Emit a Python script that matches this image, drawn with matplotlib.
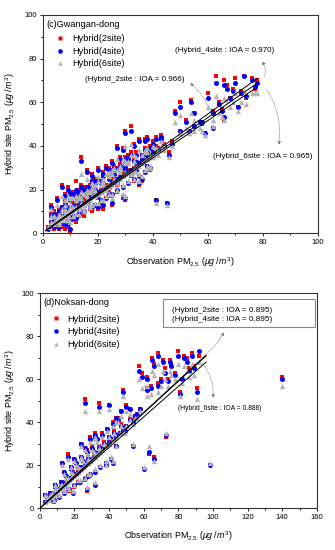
import matplotlib
matplotlib.use("Agg")
import matplotlib.pyplot as plt
from matplotlib.lines import Line2D
from matplotlib.patches import Rectangle

plt.rcParams['font.family'] = ['Liberation Sans', 'DejaVu Sans']
plt.rcParams['mathtext.fontset'] = 'custom'
plt.rcParams['mathtext.rm'] = 'Liberation Sans'
plt.rcParams['mathtext.it'] = 'Liberation Sans:italic'

# ---- (c) Gwangan-dong ----
obs_c = [
    2, 3, 3, 4, 4, 5, 5, 6, 6, 7,
    7, 8, 8, 9, 9, 10, 10, 11, 11, 12,
    3, 5, 7, 9, 10, 12, 4, 6, 8, 11,
    12, 13, 13, 14, 14, 15, 15, 16, 16, 17,
    17, 18, 18, 19, 19, 20, 20, 21, 21, 22,
    22, 23, 23, 24, 24, 25, 25, 14, 16, 18,
    20, 22, 24, 13, 19,
    26, 27, 27, 28, 29, 29, 30, 30, 31, 32,
    32, 33, 33, 34, 35, 35, 36, 36, 37, 38,
    38, 39, 40, 41, 41, 42, 43, 44, 45, 46,
    47, 30, 34, 39, 28,
    48, 50, 50, 52, 53, 54, 55, 55, 57, 58,
    59, 60, 62, 62, 63, 64, 65, 66, 66, 67,
    68, 69, 70, 71, 72, 73, 74, 76, 77, 78,
    5, 6, 7, 8, 9, 10, 11, 12, 13, 14,
    15, 16, 17, 18, 19, 20, 21, 22, 23, 24,
    25, 26, 27, 28, 29, 30, 31, 32, 33, 34,
    35, 36, 37, 38, 39, 40, 42, 44, 8, 12,
    6, 9, 11, 13, 15, 17, 19, 21, 23, 25,
    27, 29, 31, 33, 35, 37, 39, 10, 14, 18,
    4, 7, 10, 13, 16, 19, 22, 25, 28, 31,
    34, 37, 40, 43, 12, 18, 24, 30,
    3, 5, 8, 11, 14, 16, 19, 22, 24, 27,
    30, 33, 36, 38, 41, 20, 26, 32, 15, 9,
]
h2_c = [
    3, 13, 3, 6, 2, 9, 3, 11, 2, 22,
    4, 15, 2, 21, 3, 1, 12, 19, 6, 24,
    9, 16, 3, 12, 19, 5, 10, 7, 18, 14,
    13, 20, 9, 35, 15, 21, 8, 29, 14, 11,
    22, 23, 10, 17, 25, 11, 30, 19, 24, 11,
    28, 21, 31, 17, 25, 13, 33, 22, 18, 27,
    16, 23, 20, 11, 20,
    27, 40, 22, 30, 39, 16, 30, 15, 36, 49,
    26, 34, 41, 29, 22, 43, 35, 24, 43, 44,
    31, 40, 37, 15, 44, 38, 45, 41, 14, 37,
    42, 47, 33, 29, 35,
    56, 60, 47, 52, 47, 61, 55, 49, 51, 50,
    46, 64, 48, 56, 72, 60, 57, 70, 52, 68,
    62, 66, 71, 58, 65, 72, 62, 71, 66, 70,
    7, 7, 8, 10, 10, 11, 11, 13, 13, 14,
    15, 16, 16, 18, 18, 19, 20, 21, 22, 22,
    23, 25, 25, 26, 27, 28, 29, 29, 30, 32,
    32, 33, 35, 35, 36, 37, 39, 41, 12, 16,
    3, 5, 7, 8, 9, 11, 13, 14, 16, 17,
    19, 21, 23, 24, 26, 28, 30, 11, 15, 20,
    9, 12, 15, 18, 21, 24, 27, 29, 32, 35,
    37, 39, 42, 44, 18, 24, 30, 35,
    5, 7, 10, 13, 16, 19, 21, 24, 26, 30,
    32, 34, 36, 38, 40, 25, 31, 37, 13, 8,
]
h4_c = [
    2, 12, 4, 5, 3, 8, 4, 10, 3, 21,
    5, 14, 4, 20, 4, 2, 11, 18, 7, 20,
    8, 15, 5, 11, 18, 7, 9, 8, 17, 13,
    12, 19, 10, 33, 15, 20, 10, 28, 14, 12,
    21, 22, 12, 17, 24, 12, 29, 19, 23, 13,
    27, 21, 30, 18, 25, 14, 32, 21, 18, 26,
    17, 23, 21, 12, 20,
    27, 39, 23, 30, 38, 17, 30, 16, 35, 47,
    27, 33, 40, 29, 23, 42, 34, 25, 42, 43,
    31, 39, 37, 15, 43, 38, 44, 40, 14, 36,
    41, 46, 33, 30, 34,
    55, 58, 47, 51, 47, 60, 55, 49, 51, 51,
    46, 62, 48, 55, 69, 59, 56, 68, 53, 66,
    62, 65, 69, 58, 64, 72, 63, 70, 67, 69,
    6, 7, 8, 9, 10, 10, 11, 12, 13, 14,
    14, 15, 16, 17, 18, 19, 19, 21, 21, 22,
    23, 24, 25, 26, 26, 27, 28, 29, 30, 31,
    32, 33, 34, 35, 36, 37, 38, 40, 11, 15,
    4, 6, 8, 9, 10, 12, 13, 15, 16, 18,
    20, 21, 23, 25, 26, 28, 30, 12, 16, 21,
    9, 12, 15, 17, 21, 23, 26, 28, 31, 34,
    36, 38, 41, 43, 18, 24, 29, 34,
    5, 7, 10, 12, 16, 19, 20, 23, 26, 29,
    31, 33, 36, 37, 39, 24, 30, 36, 13, 8,
]
h6_c = [
    3, 11, 4, 5, 4, 7, 5, 9, 5, 17,
    6, 13, 6, 17, 6, 5, 11, 16, 8, 17,
    8, 13, 7, 10, 16, 9, 8, 8, 15, 12,
    12, 17, 11, 27, 14, 18, 11, 25, 14, 13,
    19, 20, 13, 17, 22, 14, 26, 19, 22, 15,
    24, 20, 27, 18, 23, 16, 29, 19, 17, 23,
    18, 22, 21, 12, 19,
    25, 34, 23, 28, 34, 18, 28, 17, 32, 41,
    27, 31, 36, 28, 24, 38, 32, 26, 38, 39,
    31, 36, 35, 14, 39, 36, 40, 38, 13, 35,
    40, 40, 31, 30, 31,
    51, 54, 46, 48, 46, 55, 52, 47, 48, 47,
    45, 58, 49, 52, 63, 55, 53, 62, 52, 61,
    58, 60, 64, 56, 60, 65, 59, 64, 64, 64,
    6, 6, 8, 9, 9, 10, 10, 12, 12, 13,
    14, 15, 15, 17, 17, 18, 19, 20, 21, 21,
    22, 24, 24, 25, 26, 27, 28, 28, 29, 31,
    31, 32, 34, 34, 35, 36, 38, 40, 11, 15,
    4, 6, 8, 9, 10, 12, 14, 15, 17, 18,
    20, 22, 24, 25, 27, 29, 31, 12, 16, 21,
    8, 11, 14, 16, 20, 22, 25, 27, 30, 33,
    35, 37, 40, 42, 17, 23, 28, 33,
    5, 7, 10, 12, 16, 19, 20, 23, 26, 29,
    32, 33, 36, 37, 39, 24, 30, 36, 13, 8,
]
fit_x_c = [1, 78]
fit_slope_c = [0.905, 0.878, 0.855]
fit_icpt_c = [0.3, 0.3, 0.3]

# ---- (d) Noksan-dong ----
obs_d = [
    26, 34, 40, 59, 66, 71, 80, 83, 88, 92,
    64, 62, 68, 74, 81, 91, 73, 63, 66, 60,
    98, 140, 56, 50, 47, 44, 54, 52, 32, 29,
    24, 31, 44, 54, 49, 42, 38, 32, 27, 19,
    16, 13, 9, 3, 7,
    57, 65, 68, 72, 76, 78, 85, 86, 70, 82,
    48, 62, 75, 89,
    3, 5, 6, 7, 8, 9, 10, 11, 12, 13,
    14, 15, 16, 17, 18, 19, 20, 21, 22, 23,
    24, 25, 26, 27, 28, 29, 30, 31, 32, 33,
    34, 35, 36, 38, 40, 42, 44, 46, 48, 50,
    6, 9, 12, 15, 18, 21, 24, 27, 30, 33,
    36, 39, 42, 45, 14, 20, 26, 32,
    8, 11, 14, 17, 20, 23, 26, 29, 32, 35,
    38, 41, 16, 22, 28,
    4, 7, 10, 13, 16, 19, 22, 25, 28, 31,
    34, 37, 40, 43, 47, 52, 55, 58, 18, 24,
]
h2_d = [
    51, 49, 48, 63, 67, 69, 73, 71, 72, 71,
    57, 56, 58, 60, 54, 56, 33, 25, 24, 18,
    20, 61, 44, 48, 45, 42, 41, 46, 35, 33,
    30, 26, 29, 29, 36, 21, 20, 11, 8, 7,
    25, 21, 11, 6, 4,
    66, 70, 72, 65, 67, 63, 70, 65, 60, 60,
    55, 61, 69, 66,
    3, 4, 5, 6, 7, 7, 8, 9, 10, 10,
    11, 12, 13, 13, 14, 15, 16, 16, 17, 18,
    19, 19, 20, 21, 22, 22, 23, 24, 25, 25,
    26, 27, 28, 29, 31, 32, 34, 35, 37, 38,
    7, 10, 12, 15, 18, 21, 24, 27, 29, 32,
    35, 37, 40, 42, 17, 23, 28, 33,
    3, 5, 7, 8, 10, 12, 13, 15, 17, 19,
    21, 23, 9, 12, 15,
    5, 7, 9, 12, 14, 17, 19, 22, 24, 26,
    29, 31, 33, 36, 39, 42, 43, 46, 19, 24,
]
h4_d = [
    49, 47, 48, 61, 66, 68, 71, 70, 71, 73,
    56, 55, 57, 59, 53, 54, 34, 26, 23, 18,
    20, 60, 44, 47, 45, 42, 40, 46, 34, 32,
    30, 26, 29, 29, 36, 21, 20, 11, 9, 7,
    24, 21, 11, 6, 4,
    64, 69, 71, 63, 66, 62, 68, 64, 59, 60,
    54, 60, 68, 65,
    3, 4, 5, 6, 7, 7, 8, 9, 10, 10,
    11, 12, 13, 13, 14, 15, 16, 16, 17, 18,
    19, 19, 20, 21, 22, 22, 23, 24, 25, 25,
    26, 27, 28, 29, 31, 32, 34, 35, 37, 38,
    7, 10, 12, 15, 18, 21, 24, 26, 28, 32,
    34, 37, 39, 41, 17, 23, 28, 33,
    4, 5, 7, 9, 11, 12, 14, 16, 17, 19,
    21, 23, 9, 12, 15,
    5, 7, 9, 11, 14, 16, 19, 22, 23, 26,
    28, 30, 33, 35, 38, 41, 43, 46, 19, 24,
]
h6_d = [
    45, 45, 46, 56, 62, 64, 67, 66, 67, 68,
    53, 52, 54, 57, 52, 51, 35, 29, 22, 19,
    21, 57, 42, 45, 43, 40, 39, 44, 33, 31,
    29, 26, 29, 30, 35, 22, 20, 12, 10, 8,
    23, 20, 11, 6, 5,
    60, 64, 67, 60, 62, 60, 64, 61, 57, 58,
    52, 57, 64, 62,
    3, 4, 5, 6, 6, 7, 8, 9, 9, 10,
    11, 12, 12, 13, 14, 15, 15, 16, 17, 18,
    18, 19, 20, 21, 21, 22, 23, 24, 24, 25,
    26, 27, 27, 29, 30, 32, 33, 35, 36, 38,
    6, 9, 11, 14, 17, 20, 23, 25, 27, 31,
    33, 36, 38, 40, 16, 22, 27, 32,
    4, 6, 8, 9, 11, 13, 14, 16, 18, 20,
    22, 24, 10, 13, 16,
    5, 7, 9, 11, 14, 16, 19, 22, 23, 26,
    28, 30, 33, 35, 38, 41, 42, 45, 19, 24,
]
fit_x_d = [0, 96]
fit_slope_d = [0.742, 0.738, 0.708]
fit_icpt_d = [0.0, 0.0, 0.0]

labels = ['Hybrid(2site)', 'Hybrid(4site)', 'Hybrid(6site)']
RED, BLUE, GRAY = '#ff0000', '#0000ff', '#b4b4b4'

fig = plt.figure(figsize=(3.35, 5.5), dpi=100)
ax1 = fig.add_axes([0.128, 0.576, 0.821, 0.397])
ax2 = fig.add_axes([0.119, 0.076, 0.827, 0.391])

ylab = r'Hybrid site PM$_{2.5}$ ($\mathit{\mu g\,/\,m^3}$)'
xlab = r'Observation PM$_{2.5}$ ($\mathit{\mu g\,/\,m^3}$)'


def draw_panel(ax, obs, h2, h4, h6, fx, slopes, icpts, xmax, title, leg_x, leg_y):
    ax.scatter(obs, h2, s=11, marker='s', color=RED, linewidths=0, zorder=2)
    ax.scatter(obs, h4, s=13, marker='o', color=BLUE, linewidths=0, zorder=3)
    ax.scatter(obs, h6, s=15, marker='^', color=GRAY, linewidths=0, zorder=4)
    for k, b in zip(slopes, icpts):
        ax.plot(fx, [b + k * v for v in fx], color='black', lw=0.7, zorder=5)
    ax.set_xlim(0, xmax)
    ax.set_ylim(0, 100)
    ax.set_xticks(range(0, xmax + 1, 20))
    ax.set_xticks(range(10, xmax, 20), minor=True)
    ax.set_yticks(range(0, 101, 20))
    ax.set_yticks(range(10, 100, 20), minor=True)
    ax.tick_params(which='both', direction='out', top=False, right=False,
                   width=0.6, labelsize=5.5, pad=1.5)
    ax.tick_params(which='major', length=2.5)
    ax.tick_params(which='minor', length=1.5)
    for sp in ax.spines.values():
        sp.set_linewidth(0.8)
        sp.set_color('#333333')
    ax.set_xlabel(xlab, fontsize=6.4)
    ax.set_ylabel(ylab, fontsize=6.4)
    ax.text(0.012, 0.958, title, transform=ax.transAxes, fontsize=6.6,
            va='center', ha='left')
    handles = [
        Line2D([], [], ls='none', marker='s', ms=2.9, mec='none', mfc=RED),
        Line2D([], [], ls='none', marker='o', ms=3.3, mec='none', mfc=BLUE),
        Line2D([], [], ls='none', marker='^', ms=3.3, mec='none', mfc=GRAY),
    ]
    ax.legend(handles, labels, loc='upper left', bbox_to_anchor=(leg_x, leg_y),
              frameon=False, fontsize=6.6, handlelength=1.0, handletextpad=0.8,
              labelspacing=0.4, borderpad=0, borderaxespad=0)


draw_panel(ax1, obs_c, h2_c, h4_c, h6_c, fit_x_c, fit_slope_c, fit_icpt_c,
           100, '(c)Gwangan-dong', 0.045, 0.912)
draw_panel(ax2, obs_d, h2_d, h4_d, h6_d, fit_x_d, fit_slope_d, fit_icpt_d,
           160, '(d)Noksan-dong', 0.041, 0.9)

ax1.xaxis.set_label_coords(0.5, -0.1)
ax1.yaxis.set_label_coords(-0.095, 0.5)
ax2.xaxis.set_label_coords(0.5, -0.1)
ax2.yaxis.set_label_coords(-0.083, 0.5)

arrow = dict(arrowstyle='-|>,head_length=0.2,head_width=0.1', ls=':', lw=0.5,
             color='#777777', shrinkA=0, shrinkB=0)

# annotations (c)
ax1.text(66.2, 83.5, '(Hybrid_4site : IOA = 0.970)', fontsize=5.8, ha='center', va='center')
ax1.text(33.5, 70.6, '(Hybrid_2site : IOA = 0.966)', fontsize=5.8, ha='center', va='center')
ax1.text(80.0, 35.3, '(Hybrid_6site : IOA = 0.965)', fontsize=5.8, ha='center', va='center')
ax1.annotate('', xy=(79.6, 78.6), xytext=(80.5, 72.0),
             arrowprops=dict(arrow, connectionstyle='arc3,rad=0.3'))
ax1.annotate('', xy=(53.5, 68.8), xytext=(61.0, 55.0),
             arrowprops=dict(arrow, connectionstyle='arc3,rad=0.15'))
ax1.annotate('', xy=(85.8, 40.4), xytext=(81.5, 65.6),
             arrowprops=dict(arrow, connectionstyle='arc3,rad=-0.18'))

# annotations (d)
ax2.add_patch(Rectangle((71, 84.2), 87.9, 13.0, facecolor='white',
                        edgecolor='#888888', lw=0.8, zorder=6))
ax2.text(76.3, 91.8, '(Hybrid_2site : IOA = 0.895)', fontsize=5.9, va='center', zorder=7)
ax2.text(76.3, 87.8, '(Hybrid_4site : IOA = 0.895)', fontsize=5.9, va='center', zorder=7)
ax2.text(79.7, 46.5, '(Hybrid_6site : IOA = 0.888)', fontsize=4.9, va='center')
ax2.annotate('', xy=(106.3, 81.9), xytext=(96.5, 72.0),
             arrowprops=dict(arrow, connectionstyle='arc3,rad=0.1'))
ax2.annotate('', xy=(100.0, 51.2), xytext=(94.0, 67.4),
             arrowprops=dict(arrow, connectionstyle='arc3,rad=-0.2'))

fig.savefig('out.png', dpi=100)
